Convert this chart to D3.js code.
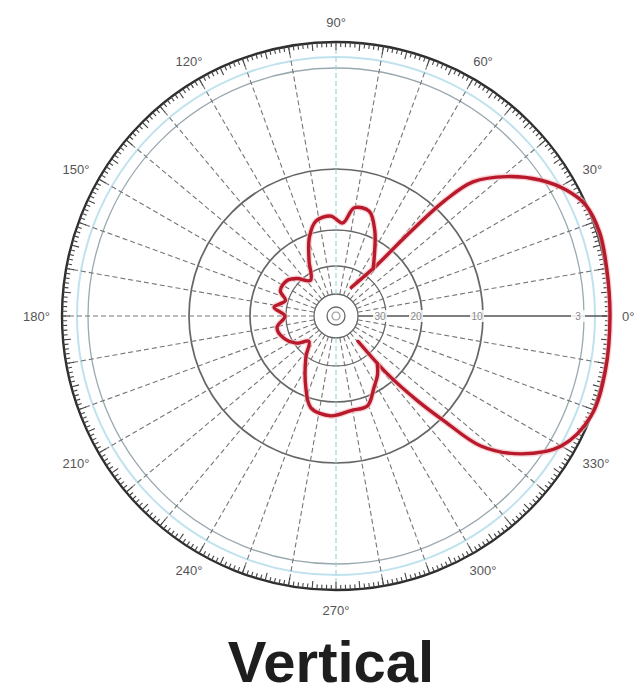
<!DOCTYPE html>
<html><head><meta charset="utf-8">
<script src="https://cdn.jsdelivr.net/npm/d3@7"></script>
<style>html,body{margin:0;padding:0;background:#fff;}svg{display:block;}</style>
</head><body>
<svg id="chart" width="642" height="698"></svg>
<script>
// ---- data ----
const ringDb = [-50, -40, -30, -20, -10, -3];
const ringLabelDb = [-30, -20, -10, -3];
const ringLabels = ["30", "20", "10", "3"];
const angleTicks = [0, 30, 60, 90, 120, 150, 180, 210, 240, 270, 300, 330];
const angleLabels = ["0°", "30°", "60°", "90°", "120°", "150°", "180°", "210°", "240°", "270°", "300°", "330°"];
const title = "Vertical";
// main lobe (open path, drawn in order)
const mainAngles = [62, 51.1, 48.7, 46.7, 44.4, 39.2, 33.7, 28.6, 24, 17.5, 10, 0, -11.5, -21.4, -30, -36.7, -41.9, -44.1, -46.1, -48.4, -49];
const mainDb = [-36.3, -25.3, -16.3, -9.2, -6.9, -4.9, -3.2, -1.3, -0.1, 0.3, 0.1, 0, 0.1, 0, -1.6, -4.2, -6.7, -9.7, -14.8, -22.2, -35.9];
// side and back lobes (open path, drawn in order)
const sideAngles = [51.8, 58.2, 65.4, 72.4, 80.4, 85.9, 92.9, 101.9, 108.8, 116, 125.5, 136, 144, 155.6, 163, 172, 180, 191, 202.8, 214.9, 223, 234.3, 247.3, 254.7, 267, 279, 289.4, 298, 305, 311];
const sideDb = [-27.2, -23.6, -18.8, -16.1, -16.1, -18.8, -17.7, -18.2, -20.9, -26.8, -32.2, -28.9, -27.1, -26.9, -29.2, -26.5, -29.7, -27.2, -28.1, -30.9, -34.6, -29.5, -22.2, -18.5, -17.7, -18.4, -18.5, -21.4, -23.8, -26.4];

// ---- layout ----
const W = 642, H = 698, cx = 336, cy = 316;
const svg = d3.select("#chart");
const g = svg.append("g").attr("transform", `translate(${cx},${cy})`);
const r = d3.scaleLinear().domain([-50, -40, -30, -20, -10, -3, 0]).range([9, 22, 50, 86, 147, 248, 274]);
const R0 = r(0);

// light blue band
g.append("circle").attr("r", 259).attr("fill", "none").attr("stroke", "#bfe2ee").attr("stroke-width", 2);

// rings
g.selectAll("circle.ring").data(ringDb).join("circle").attr("class", "ring")
  .attr("r", d => r(d)).attr("fill", "none")
  .attr("stroke", d => d === -3 ? "#9aa9b0" : "#666")
  .attr("stroke-width", d => (d === -10 || d === -20) ? 1.7 : 1.3);

// spokes every 10 degrees
const spokes = d3.range(0, 360, 10);
g.selectAll("line.spoke").data(spokes).join("line").attr("class", "spoke")
  .attr("x1", d => r(-40) * Math.cos(d * Math.PI / 180))
  .attr("y1", d => -r(-40) * Math.sin(d * Math.PI / 180))
  .attr("x2", d => R0 * Math.cos(d * Math.PI / 180))
  .attr("y2", d => -R0 * Math.sin(d * Math.PI / 180))
  .attr("stroke", d => (d === 90 || d === 270) ? "#9ccfe0" : (d === 0 ? "#555" : "#767676"))
  .attr("stroke-width", d => d === 0 ? 1.7 : 1.1)
  .attr("stroke-dasharray", d => d === 0 ? null : "5,3");

// outer circle with degree ticks
g.append("circle").attr("r", R0).attr("fill", "none").attr("stroke", "#2e2e2e").attr("stroke-width", 2.4);
const ticks = d3.range(0, 360, 1);
g.selectAll("line.tick").data(ticks).join("line").attr("class", "tick")
  .attr("x1", d => R0 * Math.cos(d * Math.PI / 180))
  .attr("y1", d => -R0 * Math.sin(d * Math.PI / 180))
  .attr("x2", d => (R0 - (d % 5 === 0 ? 8 : 5)) * Math.cos(d * Math.PI / 180))
  .attr("y2", d => -(R0 - (d % 5 === 0 ? 8 : 5)) * Math.sin(d * Math.PI / 180))
  .attr("stroke", "#444").attr("stroke-width", 1.1);

// ring labels on the 0 axis
const rl = g.selectAll("g.rl").data(ringLabelDb).join("g").attr("class", "rl")
  .attr("transform", d => `translate(${r(d) - 6},0)`);
rl.append("rect").attr("x", -7).attr("y", -6).attr("width", 14).attr("height", 12).attr("fill", "#fff").attr("opacity", 0.85);
rl.append("text").text((d, i) => ringLabels[i]).attr("text-anchor", "middle").attr("dy", "0.35em")
  .attr("font-family", "Liberation Sans, Arial, sans-serif").attr("font-size", 10).attr("fill", "#888");

// center
g.append("circle").attr("r", 4).attr("fill", "none").attr("stroke", "#999").attr("stroke-width", 1.2);

// pattern: lineRadial angle measured clockwise from 12 o'clock
const mainData = mainAngles.map((t, i) => [t, mainDb[i]]);
const sideData = sideAngles.map((t, i) => [t, sideDb[i]]);
const lr = d3.lineRadial().angle(d => Math.PI / 2 - d[0] * Math.PI / 180).radius(d => r(d[1])).curve(d3.curveCatmullRom.alpha(0.5));
[mainData, sideData].forEach(dat => {
  g.append("path").attr("d", lr(dat)).attr("fill", "none").attr("stroke", "#f3b8bd").attr("stroke-width", 6).attr("stroke-linejoin", "round").attr("opacity", 0.6);
  g.append("path").attr("d", lr(dat)).attr("fill", "none").attr("stroke", "#b81a2c").attr("stroke-width", 3.4).attr("stroke-linejoin", "round").attr("stroke-linecap", "round");
});

// angle labels
g.selectAll("text.al").data(angleTicks).join("text").attr("class", "al")
  .attr("x", d => 294 * Math.cos(d * Math.PI / 180))
  .attr("y", d => -294 * Math.sin(d * Math.PI / 180))
  .attr("text-anchor", d => { const c = Math.cos(d * Math.PI / 180); return c > 0.6 ? "start" : (c < -0.6 ? "end" : "middle"); })
  .attr("dx", d => { const c = Math.cos(d * Math.PI / 180); return c > 0.6 ? -8 : (c < -0.6 ? 8 : 0); })
  .attr("dy", "0.35em")
  .attr("font-family", "Liberation Sans, Arial, sans-serif").attr("font-size", 13).attr("fill", "#555")
  .text((d, i) => angleLabels[i]);

// title
svg.append("text").attr("x", 331).attr("y", 682).attr("text-anchor", "middle")
  .attr("font-family", "Liberation Sans, Arial, sans-serif").attr("font-weight", "bold").attr("font-size", 58).attr("fill", "#1e1e1e")
  .text(title);
</script>
</body></html>
